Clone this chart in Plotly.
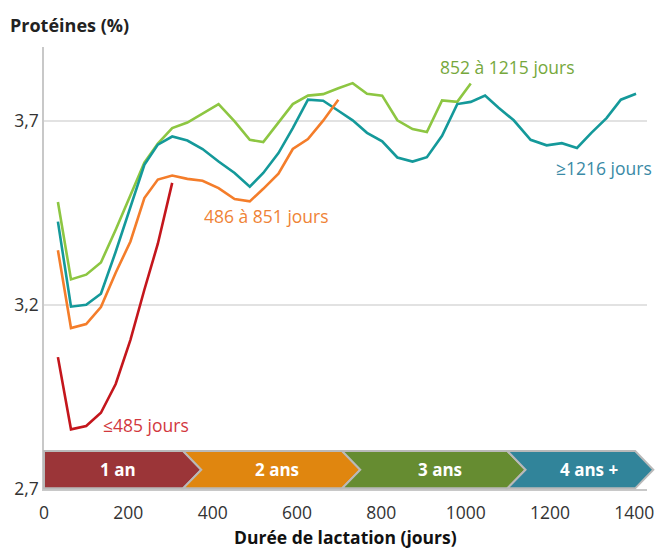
import plotly.graph_objects as go

days = [33, 64, 100, 135, 170, 205, 238, 270, 304, 340, 376, 414, 452, 488, 520,
        556, 590, 626, 662, 698, 732, 766, 802, 838, 874, 908, 944, 980, 1012,
        1046, 1078, 1114, 1154, 1192, 1228, 1264, 1298, 1334, 1368, 1404]

red_vals = [3.058, 2.862, 2.871, 2.907, 2.985, 3.105, 3.241, 3.366, 3.531]

orange_vals = [3.348, 3.137, 3.148, 3.194, 3.287, 3.372, 3.490, 3.540, 3.551, 3.542,
               3.537, 3.517, 3.487, 3.481, 3.515, 3.556, 3.623, 3.650, 3.700, 3.757]

green_vals = [3.479, 3.269, 3.282, 3.315, 3.404, 3.496, 3.586, 3.638, 3.680, 3.695,
              3.719, 3.745, 3.698, 3.648, 3.642, 3.694, 3.745, 3.768, 3.772, 3.788,
              3.802, 3.773, 3.768, 3.701, 3.677, 3.669, 3.755, 3.751, 3.801]

teal_vals = [3.426, 3.195, 3.200, 3.230, 3.344, 3.464, 3.580, 3.635, 3.657, 3.646,
             3.623, 3.589, 3.558, 3.521, 3.558, 3.612, 3.680, 3.757, 3.754, 3.727,
             3.701, 3.667, 3.644, 3.600, 3.589, 3.601, 3.659, 3.745, 3.751, 3.768,
             3.735, 3.701, 3.648, 3.633, 3.639, 3.626, 3.667, 3.707, 3.757, 3.773]

series_names = ["852 à 1215 jours", "≥1216 jours", "486 à 851 jours", "≤485 jours"]
x_ticks = [0, 200, 400, 600, 800, 1000, 1200, 1400]
y_ticks = [2.7, 3.2, 3.7]
y_ticktext = ["2,7", "3,2", "3,7"]

band_labels = ["1 an", "2 ans", "3 ans", "4 ans +"]
band_bounds = [0, 330, 707, 1099, 1402]   # day where each chevron starts / ends
band_label_x = [176, 553, 940, 1293]      # label centres (days)
band_tip = 43                               # chevron tip depth in days
band_colors = ["#9b3538", "#e0860f", "#668c31", "#31849a"]

XMAX = 1430
Y0, Y1 = 2.7, 3.9

fig = go.Figure()

line_specs = [
    (green_vals, "#8dc642", series_names[0]),
    (teal_vals, "#14999a", series_names[1]),
    (orange_vals, "#f47d2a", series_names[2]),
    (red_vals, "#c4161c", series_names[3]),
]
for vals, col, name in line_specs:
    fig.add_trace(go.Scatter(x=days[:len(vals)], y=vals, mode="lines", name=name,
                             line=dict(color=col, width=2.6), showlegend=False))

FONT = "Open Sans"

# series labels
labels = [
    ("≤485 jours", 242, 2.874, "#d2383e"),
    ("486 à 851 jours", 527, 3.442, "#ef8336"),
    ("852 à 1215 jours", 1099, 3.847, "#76a83c"),
    ("≥1216 jours", 1327, 3.572, "#3a8aa6"),
]
for txt, x, y, col in labels:
    fig.add_annotation(x=x, y=y, text=txt, showarrow=False,
                       xanchor="center", yanchor="middle",
                       font=dict(family=FONT, size=17.5, color=col))

# chevron band (paper coordinates)
def px(d):
    return d / XMAX

yb0 = 0.0015
yb1 = (2.803 - Y0) / (Y1 - Y0)
ym = (yb0 + yb1) / 2
for i in range(4):
    a = band_bounds[i]
    b = band_bounds[i + 1]
    pts = [(px(a), yb1), (px(b), yb1), (px(b + band_tip), ym), (px(b), yb0), (px(a), yb0)]
    if i > 0:
        pts.append((px(a + band_tip), ym))
    path = "M " + " L ".join(f"{x:.5f},{y:.5f}" for x, y in pts) + " Z"
    fig.add_shape(type="path", path=path, xref="paper", yref="paper",
                  fillcolor=band_colors[i], line=dict(color="#b9b9b9", width=2),
                  layer="above")
    fig.add_annotation(x=px(band_label_x[i]), y=ym, xref="paper", yref="paper",
                       xanchor="center", yanchor="middle",
                       text=f"<b>{band_labels[i]}</b>", showarrow=False,
                       font=dict(family=FONT, size=17, color="white"))

fig.add_annotation(x=0, y=1, xref="paper", yref="paper", xshift=-36, yshift=8,
                   text="<b>Protéines (%)</b>", showarrow=False, xanchor="left",
                   yanchor="bottom", font=dict(family=FONT, size=18, color="#222222"))

fig.add_annotation(x=0.5, y=0, xref="paper", yref="paper", yshift=-48,
                   text="<b>Durée de lactation (jours)</b>", showarrow=False,
                   xanchor="center", yanchor="middle",
                   font=dict(family=FONT, size=17.5, color="#111111"))

# the page body has an 8px margin, so the figure is drawn 8px in and down
fig.update_layout(
    width=660, height=541,
    margin=dict(l=36, r=21, t=39, b=60),
    paper_bgcolor="white", plot_bgcolor="white",
    font=dict(family=FONT, size=17, color="#333333"),
    xaxis=dict(range=[0, XMAX], tickvals=x_ticks, showgrid=False, zeroline=False,
               showline=True, linecolor="#c8c8c8", linewidth=1.5, ticks="",
               automargin=False, ticklabelstandoff=7,
               tickfont=dict(size=17.5, color="#333333")),
    yaxis=dict(range=[Y0, Y1], tickvals=y_ticks, ticktext=y_ticktext, showgrid=True,
               gridcolor="#e2e2e2", gridwidth=1.5, zeroline=False, showline=True,
               linecolor="#c8c8c8", linewidth=1.5, ticks="", automargin=False,
               tickfont=dict(size=17.5, color="#333333")),
)

fig.write_html("out.html")
